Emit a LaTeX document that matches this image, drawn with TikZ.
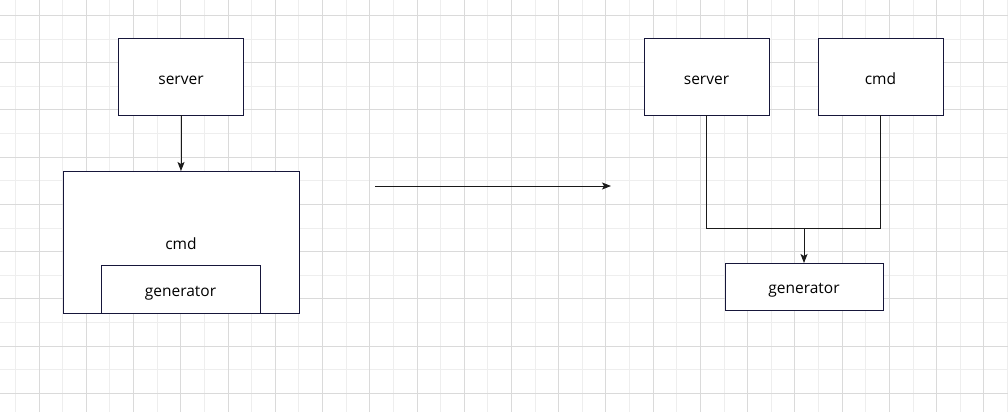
\documentclass[tikz,border=0pt]{standalone}
\usepackage{fontspec}
\setmainfont{Open Sans}
\usetikzlibrary{arrows.meta,positioning}
\definecolor{boxline}{RGB}{22,22,58}
\definecolor{wire}{RGB}{26,26,26}
\definecolor{gridlight}{RGB}{238,238,238}
\definecolor{griddark}{RGB}{218,218,218}

\begin{document}
\begin{tikzpicture}[x=1pt, y=-1pt, >={Stealth[length=9pt, width=7pt, inset=2pt]},
    every node/.style={font=\fontsize{15.5}{18}\selectfont, text height=16pt, text depth=2pt},
    block/.style={draw=boxline, fill=white, line width=1pt, outer sep=0pt},
    link/.style={wire, line width=1pt}]
    \useasboundingbox (0,0) rectangle (1008,412);

    % Grid
    \foreach \k in {0,...,21} {
        \draw[gridlight, line width=1pt] (15.5+47.24*\k, 0) -- (15.5+47.24*\k, 412);
        \draw[gridlight, line width=1pt] (0, 39.1+47.24*\k) -- (1008, 39.1+47.24*\k);
    }
    \foreach \k in {0,...,21} {
        \draw[griddark, line width=1pt] (39.1+47.24*\k, 0) -- (39.1+47.24*\k, 412);
        \draw[griddark, line width=1pt] (0, 15.5+47.24*\k) -- (1008, 15.5+47.24*\k);
    }

    % Before
    \node[block, minimum width=125pt, minimum height=76pt] (lserver) at (181, 77) {server};
    \node[block, minimum width=236pt, minimum height=142pt] (lcmd) at (181, 242) {cmd};
    \node[block, minimum width=159pt, minimum height=48pt] (lgen) at (180.5, 289) {generator};
    \draw[->, link] (lserver) -- (lcmd);

    % Change
    \coordinate (from) at (375, 186);
    \coordinate (to) at (611, 186);
    \draw[->, link] (from) -- (to);

    % After
    \node[block, minimum width=125pt, minimum height=76pt] (rserver) at (706.5, 77) {server};
    \node[block, minimum width=125pt, minimum height=76pt] (rcmd) at (880.5, 77) {cmd};
    \node[block, minimum width=158pt, minimum height=47pt] (rgen) at (804, 286.5) {generator};
    \coordinate (join) at (804, 228);
    \draw[link] (rserver.south) |- (rcmd.south |- join) -- (rcmd.south);
    \draw[->, link] (join) -- (rgen.north);
\end{tikzpicture}
\end{document}
